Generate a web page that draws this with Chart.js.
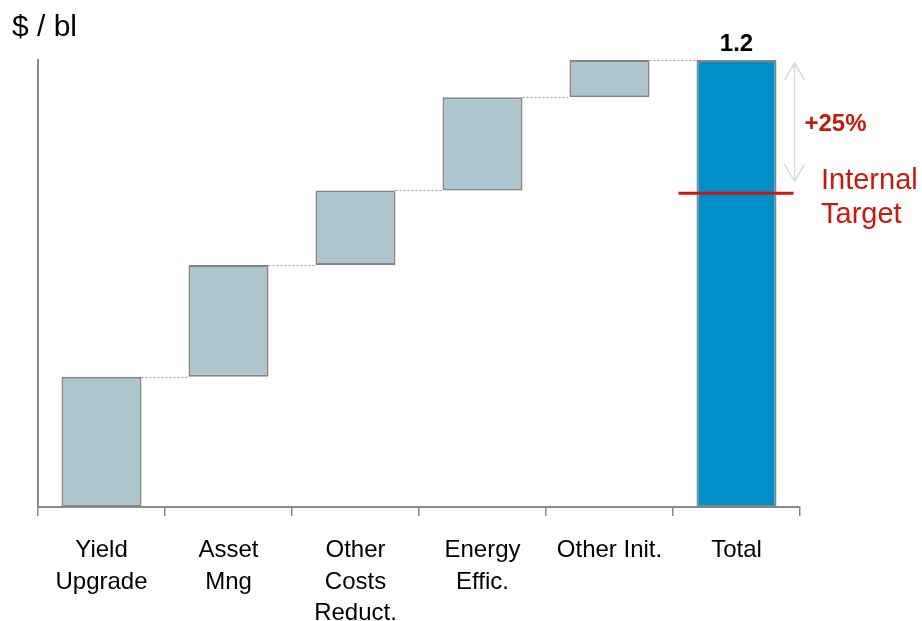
<!DOCTYPE html>
<html>
<head>
<meta charset="utf-8">
<script src="https://cdn.jsdelivr.net/npm/chart.js"></script>
<style>
  html, body { margin: 0; padding: 0; background: #fff; }
  #wrap { width: 922px; height: 621px; }
</style>
</head>
<body>
<div id="wrap"><canvas id="chart" width="922" height="621"></canvas></div>
<script>
// --- data ---
const categories = [['Yield', 'Upgrade'], ['Asset', 'Mng'], ['Other', 'Costs', 'Reduct.'], ['Energy', 'Effic.'], 'Other Init.', 'Total'];
const increments = [0.35, 0.30, 0.20, 0.25, 0.10];
const totalValue = 1.2;
const totalLabel = '1.2';
const targetValue = 0.842;
const gapLabel = '+25%';
const unitLabel = '$ / bl';

// build floating bars [start, end]
const barData = [];
let running = 0;
increments.forEach(v => {
    barData.push([running, running + v]);
    running += v;
});
barData.push([0, totalValue]);

const fillColors = increments.map(() => '#adc5cf').concat(['#008fc8']);

const FONT = '"Liberation Sans", Arial, sans-serif';
const RED = '#c8190f';

// connectors, target line, arrow and texts
const extrasPlugin = {
    id: 'extras',
    afterDatasetsDraw(chart) {
        const ctx = chart.ctx;
        const y = chart.scales.y;
        const bars = chart.getDatasetMeta(0).data;

        // dotted connectors between steps
        ctx.save();
        ctx.strokeStyle = '#9a9a9a';
        ctx.lineWidth = 1;
        ctx.setLineDash([2, 2]);
        for (let i = 0; i < bars.length - 1; i++) {
            const level = barData[i][1];
            const py = Math.round(y.getPixelForValue(level)) + 0.5;
            ctx.beginPath();
            ctx.moveTo(bars[i].x + bars[i].width / 2, py);
            ctx.lineTo(bars[i + 1].x - bars[i + 1].width / 2, py);
            ctx.stroke();
        }
        ctx.restore();

        const last = bars[bars.length - 1];
        const topY = y.getPixelForValue(totalValue);
        const tgtY = y.getPixelForValue(targetValue);

        // double arrow total -> target
        const ax = last.x + last.width / 2 + 18;
        ctx.save();
        ctx.strokeStyle = '#d9d9d9';
        ctx.lineWidth = 1.5;
        ctx.beginPath();
        ctx.moveTo(ax, topY + 3);
        ctx.lineTo(ax, tgtY - 12);
        ctx.moveTo(ax - 10, topY + 20);
        ctx.lineTo(ax, topY + 3);
        ctx.lineTo(ax + 10, topY + 20);
        ctx.moveTo(ax - 10, tgtY - 29);
        ctx.lineTo(ax, tgtY - 12);
        ctx.lineTo(ax + 10, tgtY - 29);
        ctx.stroke();
        ctx.restore();

        // target line
        ctx.save();
        ctx.strokeStyle = RED;
        ctx.lineWidth = 3;
        ctx.beginPath();
        ctx.moveTo(last.x - last.width / 2 - 18, tgtY);
        ctx.lineTo(last.x + last.width / 2 + 17, tgtY);
        ctx.stroke();
        ctx.restore();

        // texts
        ctx.save();
        ctx.textAlign = 'center';
        ctx.textBaseline = 'middle';
        ctx.fillStyle = '#000';
        ctx.font = 'bold 24px ' + FONT;
        ctx.fillText(totalLabel, last.x, topY - 16);

        ctx.fillStyle = RED;
        ctx.fillText(gapLabel, ax + 41, (topY + tgtY) / 2 - 2);

        ctx.textAlign = 'left';
        ctx.font = '29px ' + FONT;
        ctx.fillText('Internal', 821, tgtY - 12);
        ctx.fillText('Target', 821, tgtY + 22);

        ctx.fillStyle = '#000';
        ctx.font = '30px ' + FONT;
        ctx.fillText(unitLabel, 12, 28);
        ctx.restore();
    }
};

new Chart(document.getElementById('chart'), {
    type: 'bar',
    data: {
        labels: categories,
        datasets: [{
            data: barData,
            backgroundColor: fillColors,
            borderColor: '#858585',
            borderWidth: 2,
            borderSkipped: false,
            barPercentage: 0.7,
            categoryPercentage: 0.9
        }]
    },
    options: {
        responsive: false,
        animation: false,
        layout: { padding: { left: 38, right: 122, top: 60, bottom: 0 } },
        plugins: {
            legend: { display: false },
            tooltip: { enabled: false }
        },
        scales: {
            x: {
                grid: {
                    display: true,
                    drawOnChartArea: false,
                    drawTicks: true,
                    tickLength: 9,
                    color: '#8a8a8a',
                    lineWidth: 1.5
                },
                border: { color: '#8a8a8a', width: 2 },
                ticks: {
                    color: '#000',
                    font: { family: FONT, size: 24, lineHeight: 1.33 },
                    maxRotation: 0,
                    autoSkip: false,
                    padding: 18
                },
                afterFit(axis) { axis.height = 114; }
            },
            y: {
                min: 0,
                max: totalValue,
                grid: { display: false, drawTicks: false },
                border: { color: '#8a8a8a', width: 2 },
                ticks: { display: false },
                afterFit(axis) { axis.width = 0; }
            }
        }
    },
    plugins: [extrasPlugin]
});
</script>
</body>
</html>
